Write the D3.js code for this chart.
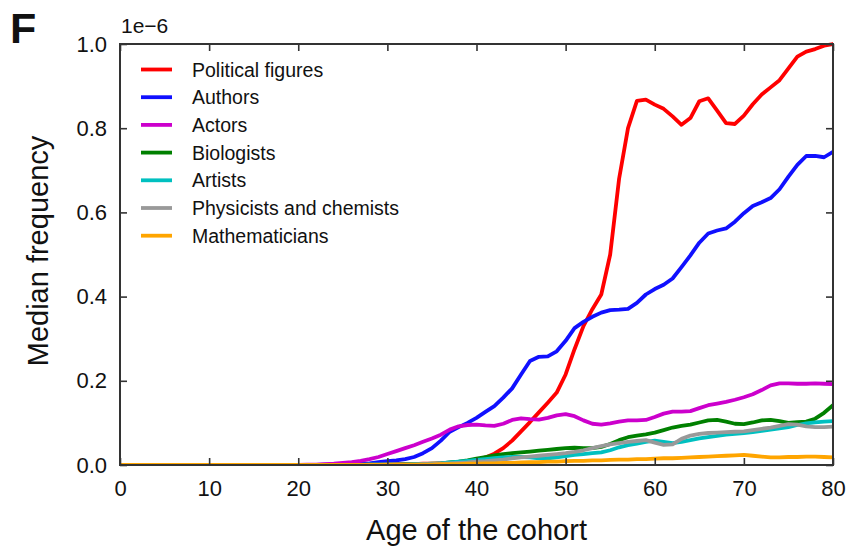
<!DOCTYPE html>
<html><head><meta charset="utf-8">
<script src="https://cdn.jsdelivr.net/npm/d3@7"></script>
<style>
body{margin:0;background:#fff;}
svg text{font-family:"Liberation Sans",Arial,Helvetica,sans-serif;fill:#111;}
</style></head>
<body><svg id="c" width="852" height="547"></svg>
<script>
// ages: 0,5,10,15 then every year from 20 to 80
const ages = [0,5,10,15].concat(d3.range(20,81));
const pre = [0,0,0,0];
const political = pre.concat([0,0,0,0,0,0.001,0.001,0.001,0.001,0.001,0.001,0.002,0.002,0.002,0.003,0.003,0.004,0.005,0.006,0.008,
 0.011,0.018,0.027,0.040,0.058,0.080,0.102,0.125,0.148,0.172,0.215,0.275,0.330,0.370,0.405,0.500,0.680,0.800,0.865,0.868,
 0.856,0.846,0.828,0.808,0.824,0.864,0.871,0.842,0.812,0.810,0.830,0.857,0.880,0.897,0.914,0.942,0.970,0.982,0.988,0.996,1.0]);
const authors = pre.concat([0,0,0,0.001,0.001,0.001,0.002,0.003,0.004,0.007,0.009,0.011,0.014,0.019,0.028,0.040,0.058,0.079,0.090,0.100,
 0.112,0.126,0.140,0.160,0.182,0.215,0.247,0.257,0.258,0.270,0.295,0.325,0.340,0.352,0.362,0.368,0.369,0.371,0.385,0.405,
 0.418,0.428,0.443,0.470,0.498,0.528,0.550,0.557,0.562,0.578,0.598,0.615,0.624,0.634,0.655,0.685,0.713,0.734,0.734,0.731,0.744]);
const actors = pre.concat([0,0.001,0.001,0.002,0.003,0.005,0.007,0.010,0.014,0.019,0.026,0.033,0.040,0.047,0.055,0.063,0.072,0.084,0.092,0.095,
 0.096,0.094,0.093,0.098,0.107,0.111,0.109,0.108,0.112,0.118,0.121,0.116,0.106,0.098,0.096,0.099,0.103,0.106,0.106,0.107,
 0.114,0.122,0.127,0.127,0.128,0.135,0.142,0.146,0.150,0.155,0.161,0.168,0.178,0.189,0.194,0.194,0.193,0.193,0.194,0.193,0.192]);
const biologists = pre.concat([0,0,0,0,0,0,0,0,0.001,0.001,0.001,0.001,0.002,0.002,0.002,0.003,0.004,0.006,0.008,0.011,
 0.015,0.019,0.023,0.026,0.028,0.030,0.032,0.034,0.036,0.038,0.040,0.041,0.040,0.040,0.043,0.050,0.059,0.066,0.070,0.073,
 0.077,0.083,0.089,0.093,0.096,0.101,0.106,0.107,0.103,0.098,0.097,0.101,0.106,0.107,0.104,0.100,0.102,0.103,0.110,0.124,0.142]);
const artists = pre.concat([0,0,0,0,0,0,0,0,0.001,0.001,0.001,0.001,0.001,0.002,0.002,0.002,0.004,0.006,0.008,0.010,
 0.012,0.014,0.016,0.018,0.019,0.019,0.018,0.016,0.016,0.018,0.021,0.024,0.026,0.028,0.030,0.035,0.042,0.047,0.051,0.055,
 0.058,0.055,0.052,0.055,0.059,0.063,0.066,0.069,0.072,0.074,0.076,0.078,0.081,0.084,0.087,0.090,0.095,0.099,0.101,0.103,0.104]);
const physicists = pre.concat([0,0,0,0,0,0,0,0,0.001,0.001,0.001,0.001,0.001,0.001,0.002,0.002,0.003,0.004,0.005,0.006,
 0.008,0.009,0.011,0.013,0.016,0.018,0.020,0.022,0.024,0.026,0.028,0.031,0.035,0.040,0.045,0.049,0.052,0.055,0.057,0.059,
 0.053,0.048,0.049,0.062,0.070,0.074,0.076,0.077,0.078,0.079,0.080,0.083,0.086,0.089,0.093,0.097,0.096,0.092,0.090,0.090,0.091]);
const mathematicians = pre.concat([0,0,0,0,0,0,0,0,0,0,0.001,0.001,0.001,0.001,0.001,0.001,0.002,0.002,0.002,0.003,
 0.003,0.004,0.004,0.005,0.005,0.006,0.007,0.007,0.008,0.008,0.009,0.010,0.010,0.011,0.011,0.012,0.013,0.013,0.014,0.014,
 0.015,0.016,0.016,0.017,0.018,0.019,0.020,0.021,0.022,0.023,0.024,0.022,0.020,0.018,0.018,0.019,0.019,0.020,0.020,0.019,0.018]);

const seriesNames = ["Political figures","Authors","Actors","Biologists","Artists","Physicists and chemists","Mathematicians"];
const seriesValues = [political,authors,actors,biologists,artists,physicists,mathematicians];
const seriesColors = ["#ff0000","#1010ff","#cc00cc","#008000","#00c0c0","#999999","#ffa500"];
const xTicks = [0,10,20,30,40,50,60,70,80];
const yTicks = [0,0.2,0.4,0.6,0.8,1.0];

(function(){
const svg = d3.select("#c");
const L=120, R=833, T=44, B=465;
const x = d3.scaleLinear().domain([0,80]).range([L,R]);
const y = d3.scaleLinear().domain([0,1]).range([B,T]);

svg.append("defs").append("clipPath").attr("id","clip")
  .append("rect").attr("x",L).attr("y",T-3).attr("width",R-L).attr("height",B-T+3);

const line = d3.line().x((d,i)=>x(ages[i])).y(d=>y(d));
const g = svg.append("g").attr("clip-path","url(#clip)");
seriesValues.forEach((vals,k)=>{
  g.append("path").datum(vals).attr("d",line)
    .attr("fill","none").attr("stroke",seriesColors[k]).attr("stroke-width",3.8)
    .attr("stroke-linejoin","round").attr("stroke-linecap","round");
});

const axCol="#333";
const axB = svg.append("g").attr("transform",`translate(0,${B})`)
  .call(d3.axisBottom(x).tickValues(xTicks).tickSizeInner(-7).tickSizeOuter(0).tickPadding(15).tickFormat(d3.format("d")));
const axT = svg.append("g").attr("transform",`translate(0,${T})`)
  .call(d3.axisTop(x).tickValues(xTicks).tickSizeInner(-7).tickSizeOuter(0).tickFormat(""));
const axL = svg.append("g").attr("transform",`translate(${L},0)`)
  .call(d3.axisLeft(y).tickValues(yTicks).tickSizeInner(-7).tickSizeOuter(0).tickPadding(13).tickFormat(d3.format(".1f")));
const axR = svg.append("g").attr("transform",`translate(${R},0)`)
  .call(d3.axisRight(y).tickValues(yTicks).tickSizeInner(-7).tickSizeOuter(0).tickFormat(""));
[axB,axT,axL,axR].forEach(a=>{
  a.select(".domain").remove();
  a.selectAll(".tick line").attr("stroke",axCol).attr("stroke-width",1.6);
  a.selectAll("text").attr("font-size",22).attr("font-family","Liberation Sans, Arial, sans-serif").attr("fill","#111");
});
svg.append("rect").attr("x",L).attr("y",T).attr("width",R-L).attr("height",B-T)
  .attr("fill","none").attr("stroke",axCol).attr("stroke-width",2);

const lg = svg.append("g");
seriesNames.forEach((n,k)=>{
  const yy = 69.5 + k*27.7;
  lg.append("line").attr("x1",141).attr("x2",172).attr("y1",yy).attr("y2",yy)
    .attr("stroke",seriesColors[k]).attr("stroke-width",3.8);
  lg.append("text").attr("x",192).attr("y",yy).attr("dy","0.36em").attr("font-size",19.5).text(n);
});

svg.append("text").attr("x",10).attr("y",43).attr("font-size",43).attr("font-weight","bold").text("F");
svg.append("text").attr("x",121).attr("y",33).attr("font-size",21).text("1e\u22126");
svg.append("text").attr("x",(L+R)/2).attr("y",540).attr("text-anchor","middle").attr("font-size",29).text("Age of the cohort");
svg.append("text").attr("transform",`translate(48,251) rotate(-90)`).attr("text-anchor","middle").attr("font-size",29).text("Median frequency");
})();
</script></body></html>
